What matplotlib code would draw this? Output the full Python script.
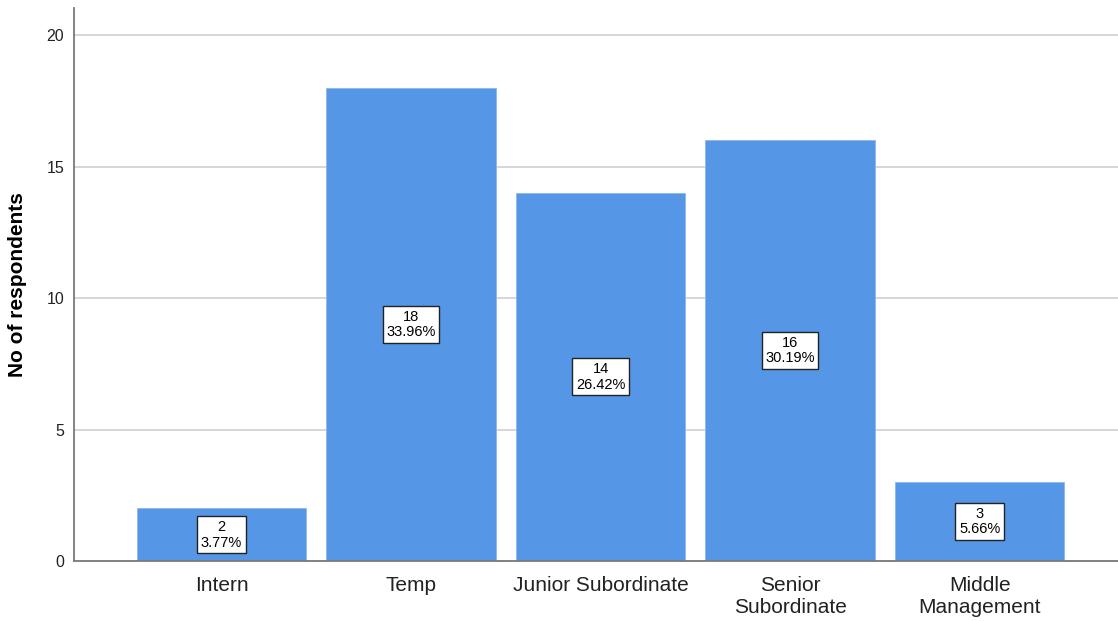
import matplotlib
matplotlib.use("Agg")
import matplotlib.pyplot as plt
from matplotlib import font_manager

names = {f.name for f in font_manager.fontManager.ttflist}
base_font = "Liberation Sans Narrow" if "Liberation Sans Narrow" in names else "Liberation Sans"
plt.rcParams["font.family"] = [base_font, "DejaVu Sans"]

categories = ["Intern", "Temp", "Junior Subordinate", "Senior\nSubordinate", "Middle\nManagement"]
counts = [2, 18, 14, 16, 3]
percents = ["3.77%", "33.96%", "26.42%", "30.19%", "5.66%"]
yticks = [0, 5, 10, 15, 20]

fig = plt.figure(figsize=(11.18, 6.21), dpi=100)
ax = fig.add_axes([74 / 1118, 1 - 561 / 621, 1 - 74 / 1118, (561 - 8) / 621])

x = list(range(len(categories)))
ax.bar(x, counts, width=0.894, color="#5596E6", edgecolor="#8AB8EE", linewidth=0.6, zorder=2)

for xi, c, p in zip(x, counts, percents):
    ax.text(xi, c / 2, f"{c}\n{p}", ha="center", va="center", fontsize=10.5,
            family=["Liberation Sans", "DejaVu Sans"], linespacing=1.15, zorder=3,
            bbox=dict(boxstyle="square,pad=0.25", facecolor="white", edgecolor="#222222", linewidth=1.0))

ax.set_xlim(-0.778, 4.73)
ax.set_ylim(0, 21.03)
ax.set_yticks(yticks)
ax.set_xticks(x)
ax.set_xticklabels(categories, fontsize=15, linespacing=1.2)
ax.tick_params(axis="both", length=0, colors="#222222")
ax.tick_params(axis="y", labelsize=11.5, pad=7)
ax.tick_params(axis="x", pad=11)
ax.yaxis.grid(True, color="#CFCFCF", linewidth=1.2, zorder=0)
ax.set_axisbelow(True)

for s in ["top", "right"]:
    ax.spines[s].set_visible(False)
for s in ["left", "bottom"]:
    ax.spines[s].set_color("#7A7A7A")
    ax.spines[s].set_linewidth(1.3)

ax.set_ylabel("No of respondents", fontsize=15, fontweight="bold",
              family=["Liberation Sans", "DejaVu Sans"], labelpad=14)

fig.savefig("out.png", dpi=100, facecolor="white")
